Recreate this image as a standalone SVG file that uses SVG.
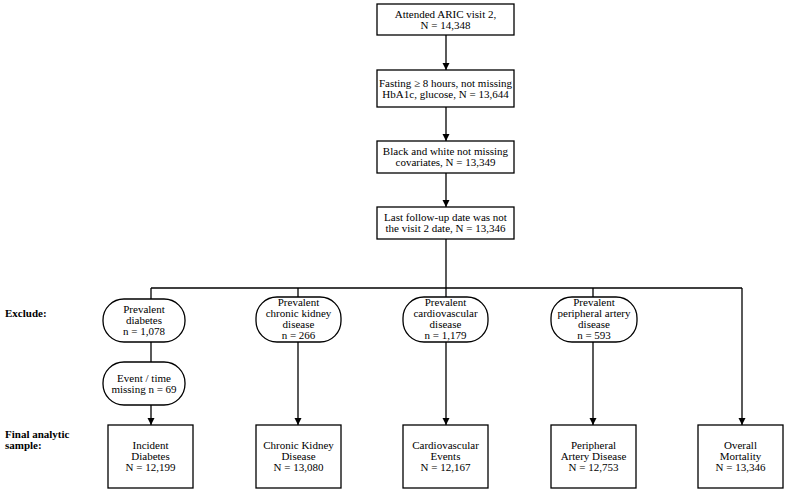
<svg xmlns="http://www.w3.org/2000/svg" width="787" height="493" viewBox="0 0 787 493">
<defs>
<style>
text{font-family:"Liberation Serif","DejaVu Serif",serif;font-size:11px;fill:#000;text-anchor:middle}
.lbl{text-anchor:start;font-weight:bold}
.box{fill:#fff;stroke:#000;stroke-width:1.3}
.ln{stroke:#000;stroke-width:1.3;fill:none}
</style>
<marker id="ah" viewBox="0 0 10 10" refX="10" refY="5" markerWidth="7" markerHeight="10" markerUnits="userSpaceOnUse" orient="auto">
<path d="M0,0 L10,5 L0,10 z" fill="#000"/>
</marker>
</defs>
<rect width="787" height="493" fill="#fff"/>
<g id="connectors">
<line class="ln" x1="446" y1="35" x2="446" y2="70" marker-end="url(#ah)"/>
<line class="ln" x1="446" y1="107" x2="446" y2="141" marker-end="url(#ah)"/>
<line class="ln" x1="446" y1="173" x2="446" y2="207" marker-end="url(#ah)"/>
<line class="ln" x1="446" y1="239" x2="446" y2="297"/>
<line class="ln" x1="151" y1="288" x2="742" y2="288"/>
<line class="ln" x1="151" y1="288" x2="151" y2="362"/>
<line class="ln" x1="151" y1="405" x2="151" y2="425" marker-end="url(#ah)"/>
<line class="ln" x1="298" y1="288" x2="298" y2="297"/>
<line class="ln" x1="298" y1="342" x2="298" y2="425" marker-end="url(#ah)"/>
<line class="ln" x1="446" y1="342" x2="446" y2="425" marker-end="url(#ah)"/>
<line class="ln" x1="593" y1="288" x2="593" y2="297"/>
<line class="ln" x1="593" y1="342" x2="593" y2="425" marker-end="url(#ah)"/>
<line class="ln" x1="742" y1="288" x2="742" y2="425" marker-end="url(#ah)"/>
</g>
<g id="labels">
<text class="lbl" x="5" y="316.5">Exclude:</text>
<text class="lbl" x="5" y="437.5">Final analytic</text>
<text class="lbl" x="5" y="448.5">sample:</text>
</g>
<g id="n1"><rect class="box" x="377" y="4" width="137" height="31"/><text x="445.5" y="17.5">Attended ARIC visit 2,</text><text x="445.5" y="28.5">N = 14,348</text></g>
<g id="n2"><rect class="box" x="377" y="70" width="137" height="37"/><text x="445.5" y="86.5">Fasting ≥ 8 hours, not missing</text><text x="445.5" y="97.5">HbA1c, glucose, N = 13,644</text></g>
<g id="n3"><rect class="box" x="377" y="141" width="137" height="32"/><text x="445.5" y="155">Black and white not missing</text><text x="445.5" y="166">covariates, N = 13,349</text></g>
<g id="n4"><rect class="box" x="377" y="207" width="137" height="32"/><text x="445.5" y="221">Last follow-up date was not</text><text x="445.5" y="232">the visit 2 date, N = 13,346</text></g>
<g id="e1"><rect class="box" x="103" y="299" width="82" height="43" rx="21" ry="21"/><text x="144" y="312.5">Prevalent</text><text x="144" y="323.5">diabetes</text><text x="144" y="334.5">n = 1,078</text></g>
<g id="e2"><rect class="box" x="256" y="297" width="85" height="45" rx="21" ry="21"/><text x="298.5" y="306">Prevalent</text><text x="298.5" y="317">chronic kidney</text><text x="298.5" y="328">disease</text><text x="298.5" y="339">n = 266</text></g>
<g id="e3"><rect class="box" x="403" y="297" width="85" height="45" rx="21" ry="21"/><text x="445.5" y="306">Prevalent</text><text x="445.5" y="317">cardiovascular</text><text x="445.5" y="328">disease</text><text x="445.5" y="339">n = 1,179</text></g>
<g id="e4"><rect class="box" x="551" y="297" width="86" height="45" rx="21" ry="21"/><text x="594" y="306">Prevalent</text><text x="594" y="317">peripheral artery</text><text x="594" y="328">disease</text><text x="594" y="339">n = 593</text></g>
<g id="e5"><rect class="box" x="103" y="362" width="82" height="43" rx="21" ry="21"/><text x="144" y="381.5">Event / time</text><text x="144" y="392.5">missing  n = 69</text></g>
<g id="f1"><rect class="box" x="108" y="425" width="85" height="63"/><text x="150.5" y="449">Incident</text><text x="150.5" y="460">Diabetes</text><text x="150.5" y="471">N = 12,199</text></g>
<g id="f2"><rect class="box" x="256" y="425" width="85" height="63"/><text x="298.5" y="449">Chronic Kidney</text><text x="298.5" y="460">Disease</text><text x="298.5" y="471">N = 13,080</text></g>
<g id="f3"><rect class="box" x="403" y="425" width="85" height="63"/><text x="445.5" y="449">Cardiovascular</text><text x="445.5" y="460">Events</text><text x="445.5" y="471">N = 12,167</text></g>
<g id="f4"><rect class="box" x="551" y="425" width="85" height="63"/><text x="593.5" y="449">Peripheral</text><text x="593.5" y="460">Artery Disease</text><text x="593.5" y="471">N = 12,753</text></g>
<g id="f5"><rect class="box" x="698" y="425" width="85" height="63"/><text x="740.5" y="449">Overall</text><text x="740.5" y="460">Mortality</text><text x="740.5" y="471">N = 13,346</text></g>
</svg>
